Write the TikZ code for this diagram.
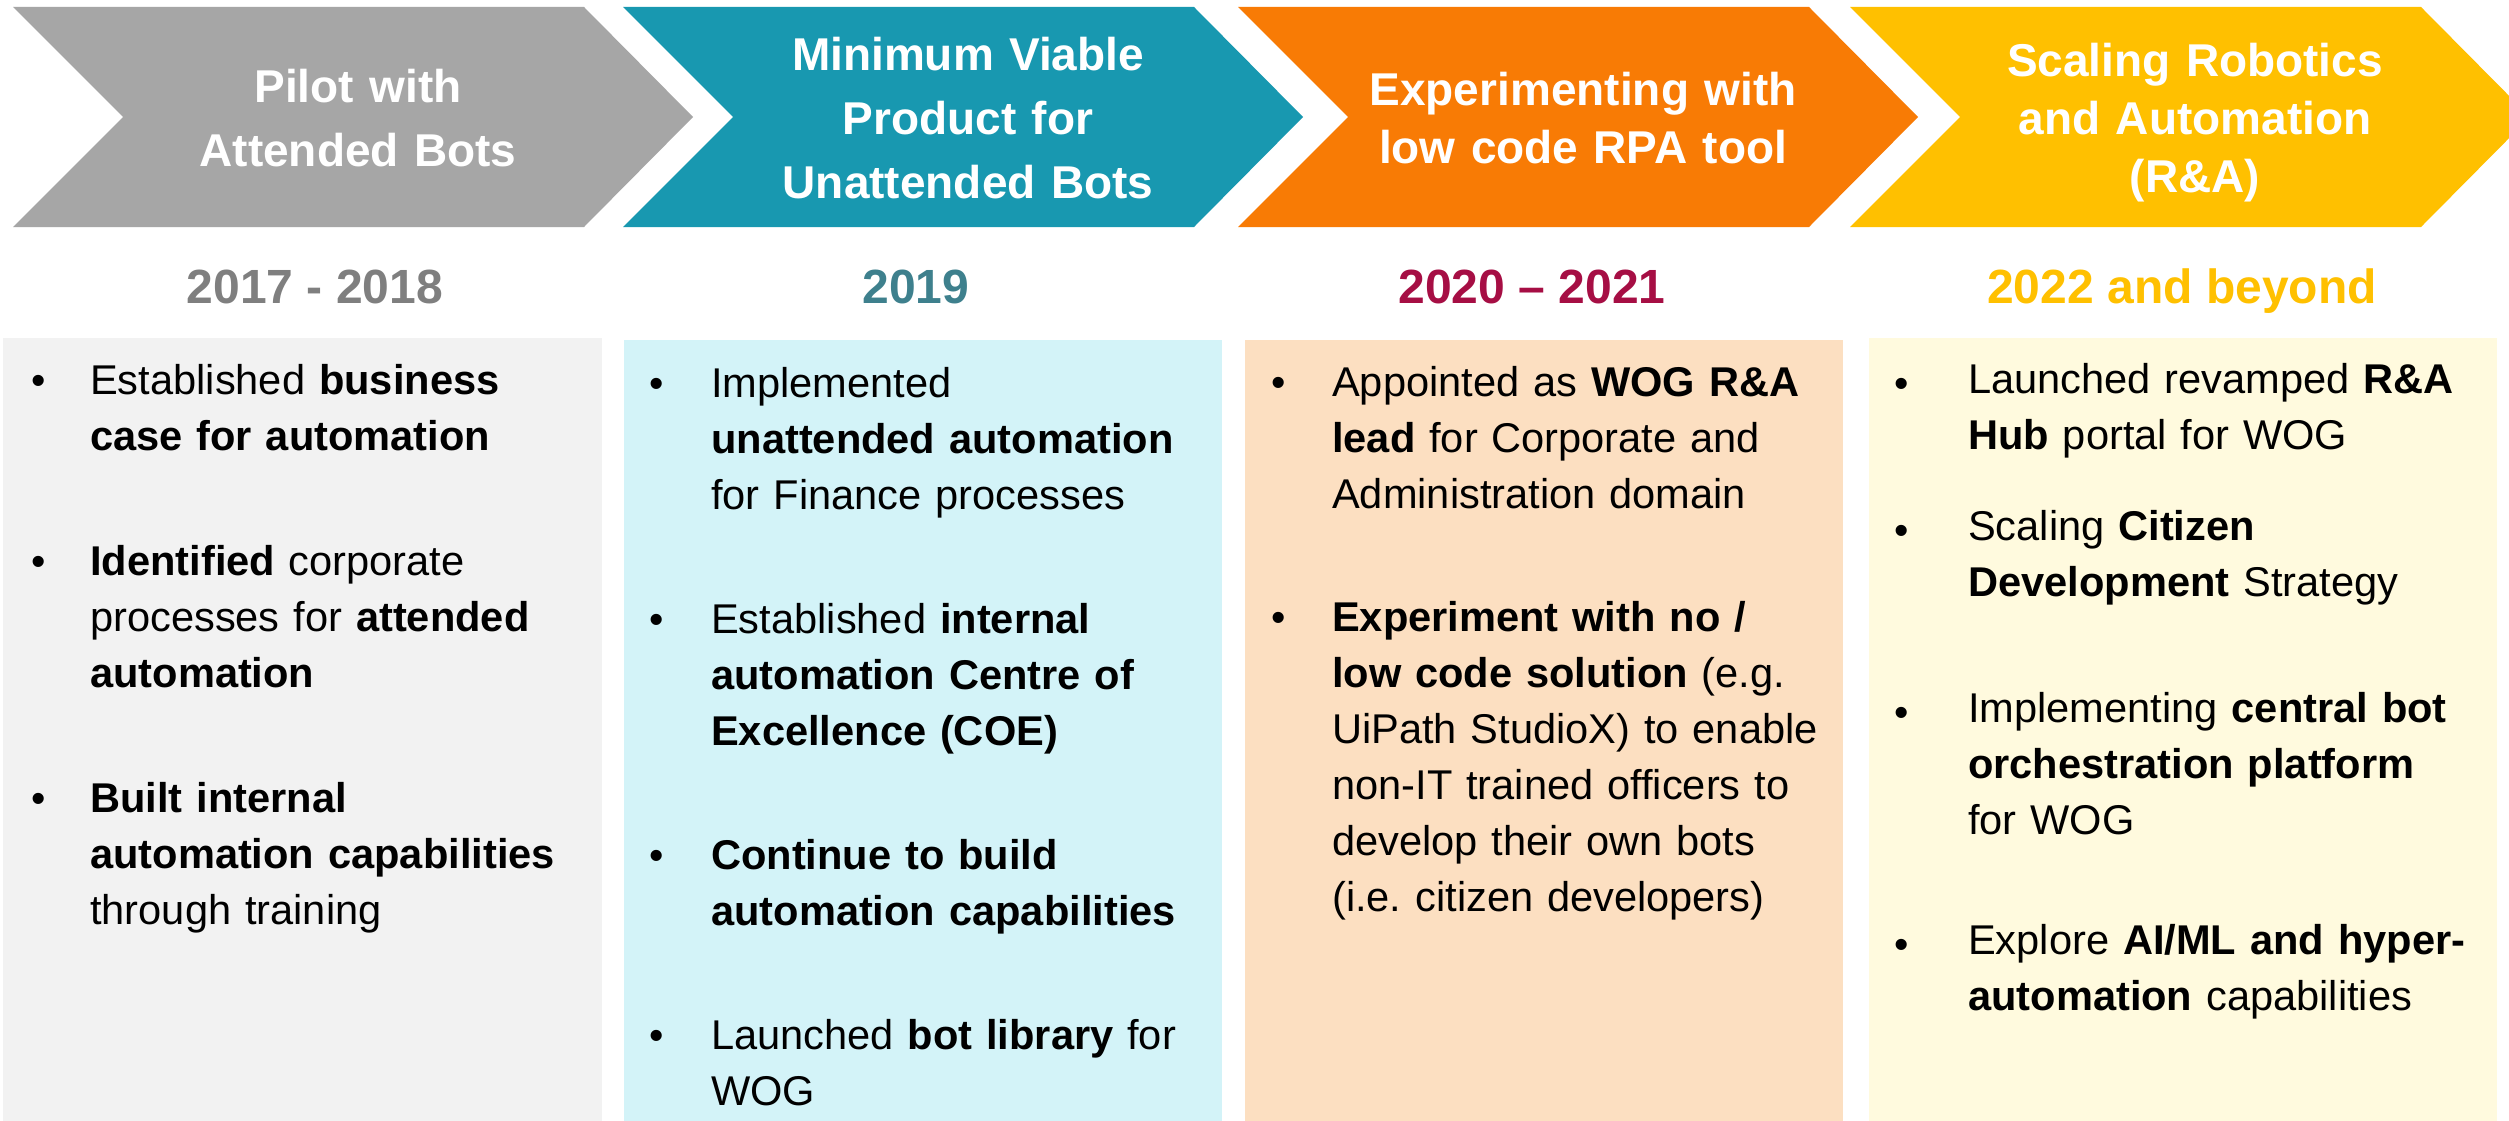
\documentclass[tikz,border=0pt]{standalone}
\usepackage{fontspec}
\setmainfont{Liberation Sans}
\definecolor{chevgray}{RGB}{166,166,166}
\definecolor{chevteal}{RGB}{24,152,176}
\definecolor{chevorange}{RGB}{248,123,5}
\definecolor{chevyellow}{RGB}{255,192,0}
\definecolor{boxgray}{RGB}{242,242,242}
\definecolor{boxcyan}{RGB}{211,243,248}
\definecolor{boxpeach}{RGB}{252,223,193}
\definecolor{boxcream}{RGB}{255,250,222}
\definecolor{yeargray}{RGB}{127,127,127}
\definecolor{yearteal}{RGB}{62,128,141}
\definecolor{yearred}{RGB}{166,14,68}
\definecolor{yearyellow}{RGB}{255,192,0}
\begin{document}
\begin{tikzpicture}[x=1pt,y=-1pt,
  chev/.style={fill=#1},
  panel/.style={fill=#1},
  title/.style={text=white, font=\bfseries\fontsize{46}{#1}\selectfont, align=center, text width=540pt, anchor=base, inner sep=0pt},
  title/.default=64,
  year/.style={text=#1, font=\bfseries\fontsize{48}{58}\selectfont, anchor=base, inner sep=0pt},
  body/.style={font=\fontsize{41.6}{56}\selectfont\frenchspacing, align=left, text width=560pt, anchor=base west, inner sep=0pt},
  dot/.style={font=\fontsize{41}{56}\selectfont, anchor=base, inner sep=0pt}
]
\useasboundingbox (0,0) rectangle (2509,1121);
\fill[white] (0,0) rectangle (2509,1121);
\clip (0,0) rectangle (2509,1121);

% chevrons
\fill[chev=chevgray]   (13,7) -- (584,7) -- (693,117) -- (584,227) -- (13,227) -- (123,117) -- cycle;
\fill[chev=chevteal]   (623,7) -- (1194,7) -- (1303,117) -- (1194,227) -- (623,227) -- (733,117) -- cycle;
\fill[chev=chevorange] (1238,7) -- (1809,7) -- (1918,117) -- (1809,227) -- (1238,227) -- (1348,117) -- cycle;
\fill[chev=chevyellow] (1850,7) -- (2421,7) -- (2530,117) -- (2421,227) -- (1850,227) -- (1960,117) -- cycle;

\node[title] (h1) at (358,103) {Pilot with\\Attended Bots};
\node[title] (h2) at (968,71) {Minimum Viable\\Product for\\Unattended Bots};
\node[title=58] (h3) at (1583,106) {Experimenting with\\low code RPA tool};
\node[title=58] (h4) at (2195,77) {Scaling Robotics\\and Automation\\(R\&A)};

% years
\node[year=yeargray]   (y1) at (315,303)  {2017 - 2018};
\node[year=yearteal]   (y2) at (916,303)  {2019};
\node[year=yearred]    (y3) at (1532,303) {2020 – 2021};
\node[year=yearyellow] (y4) at (2182,303) {2022 and beyond};

% panels
\fill[panel=boxgray]  (3,338) rectangle (602,1121);
\fill[panel=boxcyan]  (624,340) rectangle (1222,1121);
\fill[panel=boxpeach] (1245,340) rectangle (1843,1121);
\fill[panel=boxcream] (1869,338) rectangle (2497,1121);

% panel 1
\node[dot] (d11) at (39,394) {•};
\node[body] (t11) at (90,394) {Established \textbf{business}\\\textbf{case for automation}};
\node[dot] (d12) at (39,575) {•};
\node[body] (t12) at (90,575) {\textbf{Identified} corporate\\processes for \textbf{attended}\\\textbf{automation}};
\node[dot] (d13) at (39,812) {•};
\node[body] (t13) at (90,812) {\textbf{Built internal}\\\textbf{automation capabilities}\\through training};

% panel 2
\node[dot] (d21) at (657,397) {•};
\node[body] (t21) at (711,397) {Implemented\\\textbf{unattended automation}\\for Finance processes};
\node[dot] (d22) at (657,633) {•};
\node[body] (t22) at (711,633) {Established \textbf{internal}\\\textbf{automation Centre of}\\\textbf{Excellence (COE)}};
\node[dot] (d23) at (657,869) {•};
\node[body] (t23) at (711,869) {\textbf{Continue to build}\\\textbf{automation capabilities}};
\node[dot] (d24) at (657,1049) {•};
\node[body] (t24) at (711,1049) {Launched \textbf{bot library} for\\WOG};

% panel 3
\node[dot] (d31) at (1279,396) {•};
\node[body] (t31) at (1332,396) {Appointed as \textbf{WOG R\&A}\\\textbf{lead} for Corporate and\\Administration domain};
\node[dot] (d32) at (1279,631) {•};
\node[body] (t32) at (1332,631) {\textbf{Experiment with no /}\\\textbf{low code solution} (e.g.\\UiPath StudioX) to enable\\non-IT trained officers to\\develop their own bots\\(i.e. citizen developers)};

% panel 4
\node[dot] (d41) at (1902,397) {•};
\node[body] (t41) at (1968,393) {Launched revamped \textbf{R\&A}\\\textbf{Hub} portal for WOG};
\node[dot] (d42) at (1902,544) {•};
\node[body] (t42) at (1968,540) {Scaling \textbf{Citizen}\\\textbf{Development} Strategy};
\node[dot] (d43) at (1902,726) {•};
\node[body] (t43) at (1968,722) {Implementing \textbf{central bot}\\\textbf{orchestration platform}\\for WOG};
\node[dot] (d44) at (1902,958) {•};
\node[body] (t44) at (1968,954) {Explore \textbf{AI/ML and hyper-}\\\textbf{automation} capabilities};
\end{tikzpicture}
\end{document}
